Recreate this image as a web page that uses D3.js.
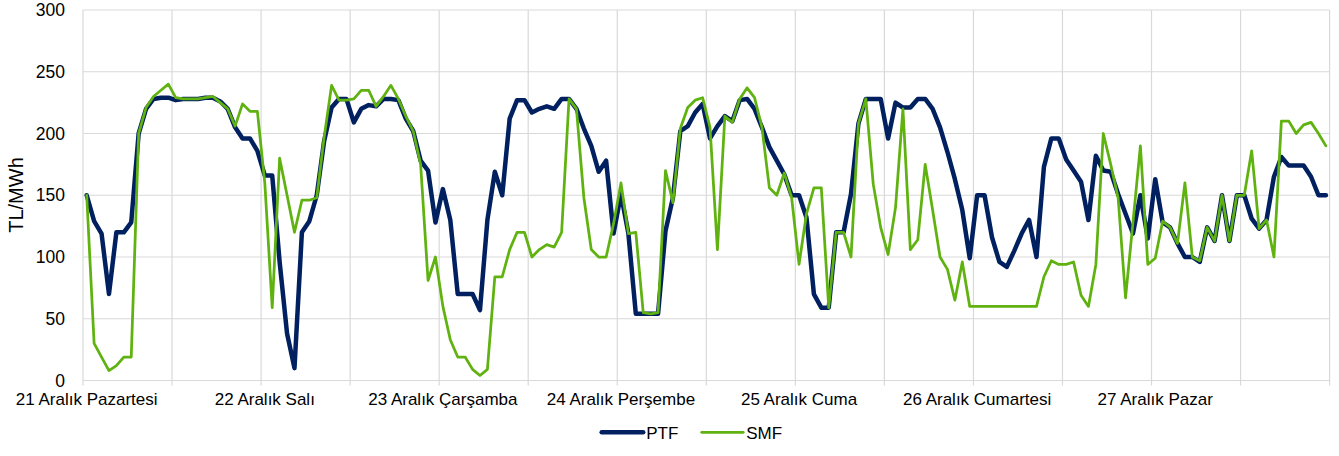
<!DOCTYPE html>
<html>
<head>
<meta charset="utf-8">
<script src="https://cdn.jsdelivr.net/npm/d3@7/dist/d3.min.js"></script>
<style>
  html, body { margin: 0; padding: 0; background: #fff; }
  svg { display: block; font-family: "Liberation Sans", Arial, sans-serif; }
</style>
</head>
<body>
<svg id="chart" width="1339" height="456"></svg>
<script>
const dayLabels = ["21 Aralık Pazartesi", "22 Aralık Salı", "23 Aralık Çarşamba", "24 Aralık Perşembe", "25 Aralık Cuma", "26 Aralık Cumartesi", "27 Aralık Pazar"];
const yTicks = [0, 50, 100, 150, 200, 250, 300];
const seriesNames = ["PTF", "SMF"];

const ptf = [
  150, 129, 119, 70, 120, 120, 128, 200, 220, 228, 229, 229, 227, 228, 228, 228, 229, 229, 226, 220, 205, 196, 196, 186,
  166, 166, 96, 38, 10, 120, 129, 150, 194, 221, 228, 228, 209, 220, 223, 222, 228, 228, 227, 212, 202, 178, 170, 128,
  155, 130, 70, 70, 70, 57, 130, 169, 150, 212, 227, 227, 217, 220, 222, 220, 228, 228, 220, 204, 190, 169, 178, 119,
  151, 119, 54, 54, 54, 54, 121, 148, 202, 206, 217, 224, 196, 206, 214, 210, 227, 228, 220, 205, 189, 178, 167, 150,
  150, 132, 70, 59, 59, 120, 120, 151, 208, 228, 228, 228, 196, 225, 221, 221, 228, 228, 220, 205, 185, 163, 138, 99,
  150, 150, 116, 96, 92, 105, 119, 130, 100, 173, 196, 196, 179, 170, 161, 130, 182, 170, 169, 151, 135, 119, 150, 115,
  163, 128, 124, 111, 100, 100, 96, 124, 113, 150, 113, 150, 150, 131, 123, 130, 165, 181, 174, 174, 174, 165, 150, 150
];
const smf = [
  150, 30, 19, 8, 12, 19, 19, 200, 221, 230, 235, 240, 229, 228, 228, 228, 229, 230, 225, 220, 206, 224, 218, 218,
  160, 59, 180, 150, 120, 146, 146, 148, 197, 239, 227, 227, 228, 235, 235, 222, 230, 239, 228, 214, 202, 175, 81, 100,
  60, 33, 19, 19, 9, 4, 9, 84, 84, 106, 120, 120, 100, 106, 110, 108, 120, 228, 220, 148, 106, 100, 100, 127,
  160, 119, 120, 55, 54, 55, 170, 144, 204, 221, 227, 229, 205, 106, 214, 209, 228, 237, 229, 205, 156, 150, 168, 148,
  94, 135, 156, 156, 59, 120, 120, 100, 208, 228, 159, 124, 102, 140, 220, 106, 114, 175, 138, 100, 90, 65, 96, 60,
  60, 60, 60, 60, 60, 60, 60, 60, 60, 84, 97, 94, 94, 96, 69, 60, 94, 200, 175, 148, 67, 128, 190, 94,
  99, 129, 124, 111, 160, 100, 97, 124, 113, 150, 113, 150, 150, 186, 123, 130, 100, 210, 210, 200, 207, 209, 200, 190
];

const colors = { PTF: "#002060", SMF: "#5fb20f" };
const widths = { PTF: 4.5, SMF: 2.75 };

const svg = d3.select("#chart");
const plotLeft = 83, plotRight = 1329.6, plotTop = 10, plotBottom = 380.5;
const hours = d3.range(ptf.length);

const x = d3.scaleBand().domain(hours).range([plotLeft, plotRight]).paddingInner(0).paddingOuter(0);
const y = d3.scaleLinear().domain([0, 300]).range([plotBottom, plotTop]);
const cx = h => x(h) + x.bandwidth() / 2;

const grid = svg.append("g");
grid.selectAll("line.h").data(yTicks).join("line")
  .attr("x1", plotLeft).attr("x2", plotRight)
  .attr("y1", d => y(d)).attr("y2", d => y(d))
  .attr("stroke", "#d9d9d9").attr("stroke-width", 1.2);
const vIdx = d3.range(0, ptf.length + 1, 12);
grid.selectAll("line.v").data(vIdx).join("line")
  .attr("x1", d => d < ptf.length ? x(d) : plotRight)
  .attr("x2", d => d < ptf.length ? x(d) : plotRight)
  .attr("y1", plotTop).attr("y2", plotBottom + 5)
  .attr("stroke", "#d9d9d9").attr("stroke-width", 1.2);

svg.append("g").selectAll("text").data(yTicks).join("text")
  .attr("x", 65).attr("y", d => y(d)).attr("dy", "0.35em")
  .attr("text-anchor", "end").attr("font-size", 17.5).attr("fill", "#000")
  .text(d => d);

svg.append("g").selectAll("text").data(dayLabels).join("text")
  .attr("x", (d, i) => cx(i * 24)).attr("y", 405)
  .attr("text-anchor", "middle").attr("font-size", 17).attr("fill", "#000")
  .text(d => d);

svg.append("text")
  .attr("transform", "translate(22.5,195) rotate(-90)")
  .attr("text-anchor", "middle").attr("font-size", 20).attr("fill", "#000")
  .text("TL/MWh");

const line = d3.line().x((d, i) => cx(i)).y(d => y(d)).curve(d3.curveLinear);
const seriesData = { PTF: ptf, SMF: smf };

seriesNames.forEach(name => {
  svg.append("path")
    .datum(seriesData[name])
    .attr("d", line)
    .attr("fill", "none")
    .attr("stroke", colors[name])
    .attr("stroke-width", widths[name])
    .attr("stroke-linejoin", "round")
    .attr("stroke-linecap", "round");
});

const legend = svg.append("g");
const legX = [601.7, 701.7];
seriesNames.forEach((name, i) => {
  legend.append("line")
    .attr("x1", legX[i]).attr("x2", legX[i] + 41.5)
    .attr("y1", 432.3).attr("y2", 432.3)
    .attr("stroke", colors[name]).attr("stroke-width", widths[name])
    .attr("stroke-linecap", "round");
  legend.append("text")
    .attr("x", legX[i] + 44.5).attr("y", 438.5)
    .attr("font-size", 17).attr("fill", "#000")
    .text(name);
});
</script>
</body>
</html>
